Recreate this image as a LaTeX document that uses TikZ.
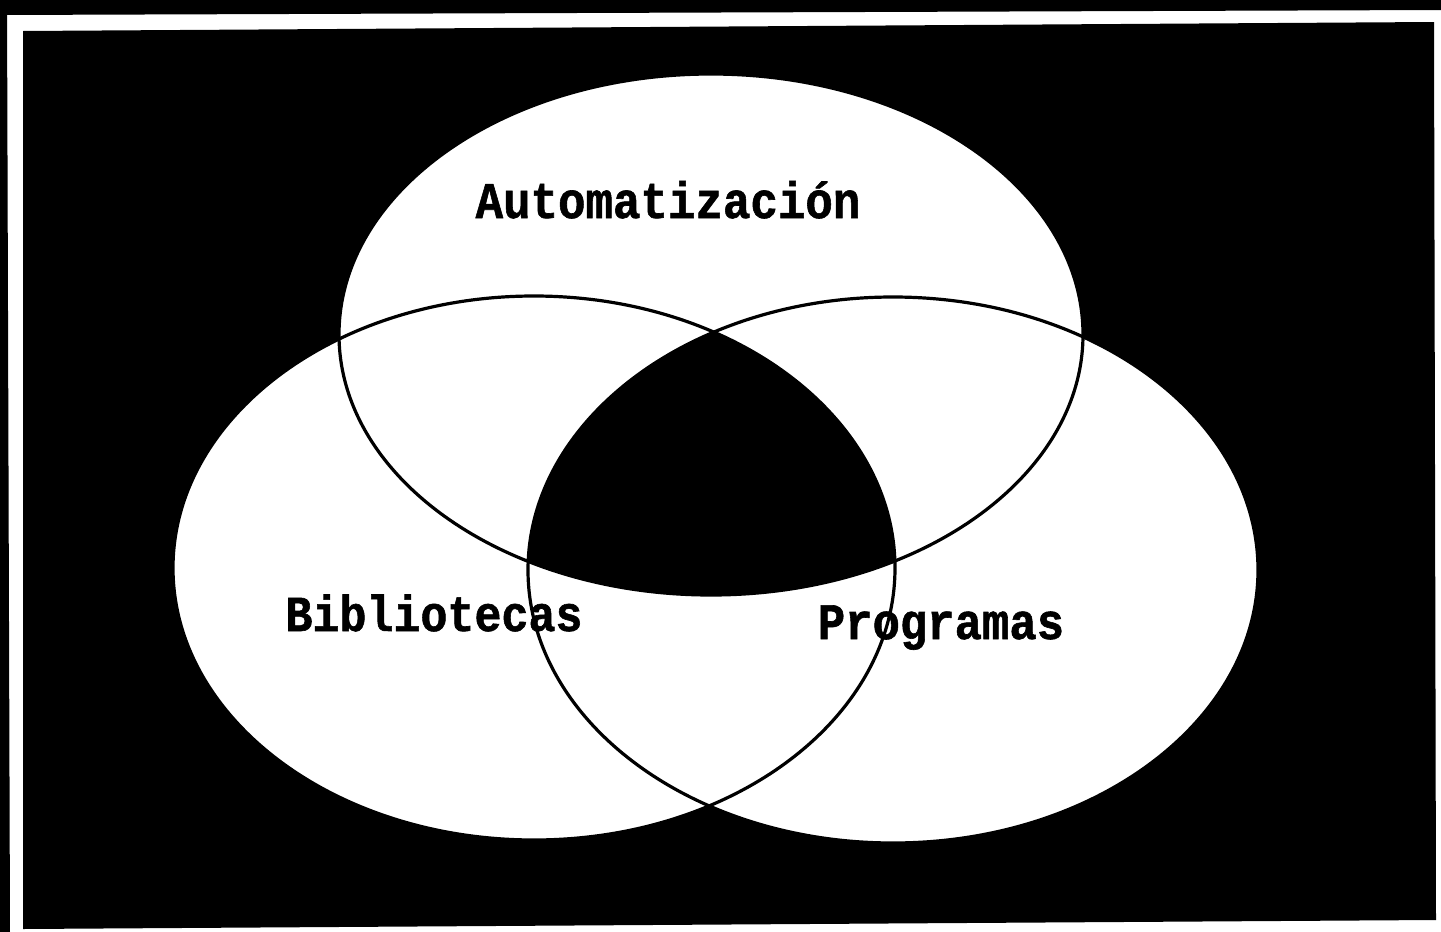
\documentclass[tikz,border=0pt]{standalone}
\usepackage{fontspec}
\newfontfamily\pixfont{Liberation Mono}[BoldFeatures={FakeBold=1.2}]
\begin{document}
\begin{tikzpicture}[x=0.5pt,y=-0.5pt,
  label/.style={font=\pixfont\bfseries\fontsize{#1}{#1}\selectfont, anchor=base, inner sep=0pt, yscale=1.12},
  outline/.style={draw=black, line width=1.6pt}]
\useasboundingbox (0,0) rectangle (1441,932);
% background and frame
\fill[white] (0,0) rectangle (1441,932);
\fill[black] (0,0) -- (1441,0) -- (1441,10) -- (0,15) -- cycle;
\fill[black] (0,0) -- (7,0) -- (10,932) -- (0,932) -- cycle;
\fill[black] (23,31) -- (1434,22) -- (1436,920) -- (23,929) -- cycle;
% ellipse centres
\coordinate (cA) at (711,334.5);
\coordinate (cB) at (534,568);
\coordinate (cC) at (893,570);
% white fills
\fill[white] (cA) ellipse [x radius=186pt, y radius=130.25pt];
\fill[white] (cB) ellipse [x radius=180.5pt, y radius=136pt];
\fill[white] (cC) ellipse [x radius=182.5pt, y radius=136.5pt];
% triple intersection black
\begin{scope}
  \clip (cA) ellipse [x radius=186pt, y radius=130.25pt];
  \clip (cB) ellipse [x radius=180.5pt, y radius=136pt];
  \fill[black] (cC) ellipse [x radius=182.5pt, y radius=136.5pt];
\end{scope}
% labels
\node[label=22.9pt] (auto) at (668,218) {Automatización};
\node[label=22.5pt] (bib) at (434,631) {Bibliotecas};
\node[label=22.8pt] (prog) at (941,639) {Programas};
% outlines
\draw[outline] (cA) ellipse [x radius=186pt, y radius=130.25pt];
\draw[outline] (cB) ellipse [x radius=180.5pt, y radius=136pt];
\draw[outline] (cC) ellipse [x radius=182.5pt, y radius=136.5pt];
\end{tikzpicture}
\end{document}
